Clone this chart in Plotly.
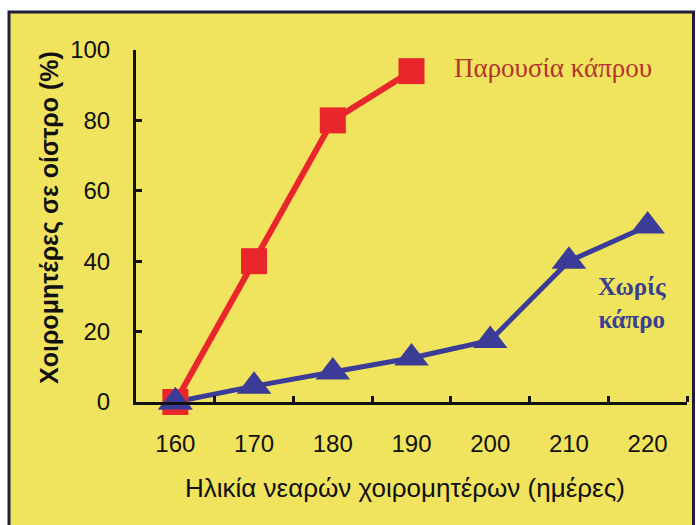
import plotly.graph_objects as go

# Age of gilts (days) and % in oestrus
ages = [160, 170, 180, 190, 200, 210, 220]
with_boar_ages = [160, 170, 180, 190]
with_boar = [0, 40, 80, 94]
without_boar = [0, 4.5, 8.5, 12.5, 17.5, 40, 50]
y_ticks = [0, 20, 40, 60, 80, 100]
x_minor = [165, 175, 185, 195, 205, 215, 225]

RED = "#E8262B"
BLUE = "#3B3C98"
YELLOW = "#F0E35E"
INK = "#111111"

fig = go.Figure()

fig.add_trace(go.Scatter(
    x=ages, y=without_boar, mode="lines+markers",
    line=dict(color=BLUE, width=5),
    marker=dict(symbol="triangle-up", size=30, color=BLUE),
    cliponaxis=False, showlegend=False,
))
fig.add_trace(go.Scatter(
    x=with_boar_ages, y=with_boar, mode="lines+markers",
    line=dict(color=RED, width=6),
    marker=dict(symbol="square", size=26, color=RED),
    cliponaxis=False, showlegend=False,
))
# blue triangle at 160 sits on top of the red square
fig.add_trace(go.Scatter(
    x=ages[:1], y=without_boar[:1], mode="markers",
    marker=dict(symbol="triangle-up", size=30, color=BLUE),
    cliponaxis=False, showlegend=False,
))

# framed yellow panel
fig.add_shape(type="rect", xref="paper", yref="paper",
              x0=-0.2305, x1=1.0118, y0=-0.45, y1=1.108,
              fillcolor=YELLOW, line=dict(color="#1E1E3A", width=3),
              layer="below")

PW, PH, L, B = 551, 352, 136, 402


def px(x):
    return (x - L) / PW


def py(y):
    return (B - y) / PH


fig.add_annotation(xref="paper", yref="paper", x=px(553), y=py(68),
                   xanchor="center", yanchor="middle",
                   text="Παρουσία κάπρου", showarrow=False,
                   font=dict(family="Liberation Serif", size=27, color="#B5332E"))
fig.add_annotation(xref="paper", yref="paper", x=px(632), y=py(303),
                   xanchor="center", yanchor="middle",
                   text="<b>Χωρίς</b><br><b>κάπρο</b>", showarrow=False,
                   align="center",
                   font=dict(family="Liberation Serif", size=25, color="#3A3F8F"))
# axis titles
fig.add_annotation(xref="paper", yref="paper", x=px(49), y=py(218),
                   xanchor="center", yanchor="middle", textangle=-90,
                   text="<b>Χοιρομητέρες σε οίστρο (%)</b>", showarrow=False,
                   font=dict(family="Liberation Sans", size=25, color=INK))
fig.add_annotation(xref="paper", yref="paper", x=px(405), y=py(488),
                   xanchor="center", yanchor="middle",
                   text="Ηλικία νεαρών χοιρομητέρων (ημέρες)", showarrow=False,
                   font=dict(family="Liberation Sans", size=26, color=INK))

axis_font = dict(family="Liberation Sans", size=24, color=INK)

fig.update_xaxes(
    range=[155, 225], tickvals=ages, ticktext=[str(a) for a in ages],
    showline=True, linecolor=INK, linewidth=3,
    ticks="", showgrid=False, zeroline=False,
    tickfont=axis_font, ticklabelstandoff=18,
    minor=dict(tickvals=x_minor, ticks="inside", ticklen=6,
               tickwidth=3, tickcolor=INK, showgrid=False),
)
fig.update_yaxes(
    range=[0, 100], tickvals=y_ticks,
    showline=True, linecolor=INK, linewidth=3,
    ticks="inside", ticklen=6, tickwidth=3, tickcolor=INK,
    showgrid=False, zeroline=False,
    tickfont=axis_font, ticklabelstandoff=18,
)

fig.update_layout(
    width=696, height=525,
    margin=dict(l=136, r=9, t=50, b=123),
    paper_bgcolor="white", plot_bgcolor="rgba(0,0,0,0)",
)

fig.write_html("out.html")
